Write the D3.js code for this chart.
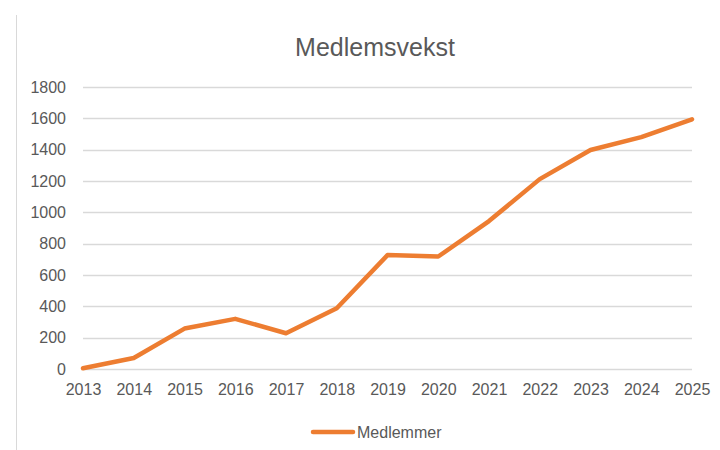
<!DOCTYPE html>
<html>
<head>
<meta charset="utf-8">
<script src="https://cdn.jsdelivr.net/npm/d3@7"></script>
<style>
  body { margin: 0; background: #fff; }
  text { font-family: "Liberation Sans", Arial, sans-serif; fill: #595959; }
</style>
</head>
<body>
<div id="container"></div>
<script>
// data
const years = ["2013", "2014", "2015", "2016", "2017", "2018", "2019",
               "2020", "2021", "2022", "2023", "2024", "2025"];
const members = [5, 70, 258, 320, 228, 388, 727, 718, 944, 1212, 1398, 1480, 1594];
const yTicks = [0, 200, 400, 600, 800, 1000, 1200, 1400, 1600, 1800];
const seriesName = "Medlemmer";
const title = "Medlemsvekst";

const W = 720, H = 450;
const margin = {top: 87, right: 28, bottom: 81, left: 83},
  width = W - margin.left - margin.right,
  height = H - margin.top - margin.bottom;

const svg = d3.select("#container")
  .append("svg")
    .attr("width", W)
    .attr("height", H);

// light frame line on the left
svg.append("line")
  .attr("x1", 16.5).attr("x2", 16.5)
  .attr("y1", 15).attr("y2", H)
  .attr("stroke", "#d9d9d9")
  .attr("stroke-width", 1);

svg.append("text")
  .attr("x", 375)
  .attr("y", 56)
  .attr("text-anchor", "middle")
  .style("font-size", "25px")
  .text(title);

const g = svg.append("g")
  .attr("transform", `translate(${margin.left},${margin.top})`);

const x = d3.scalePoint()
  .domain(years)
  .range([0, width]);

const y = d3.scaleLinear()
  .domain([0, 1800])
  .range([height, 0]);

// gridlines
g.selectAll(".grid")
  .data(yTicks)
  .join("line")
    .attr("class", "grid")
    .attr("x1", 0).attr("x2", width)
    .attr("y1", d => Math.round(y(d)) + 0.5)
    .attr("y2", d => Math.round(y(d)) + 0.5)
    .attr("stroke", "#d9d9d9")
    .attr("stroke-width", 1.3);

// y axis labels
const yAxis = g.append("g")
  .call(d3.axisLeft(y).tickValues(yTicks).tickFormat(d3.format("d")).tickSize(0).tickPadding(17));
yAxis.select(".domain").remove();
yAxis.selectAll("text")
  .style("font-size", "16px")
  .attr("fill", "#595959");

// x axis labels
const xAxis = g.append("g")
  .attr("transform", `translate(0,${height})`)
  .call(d3.axisBottom(x).tickSize(0).tickPadding(15));
xAxis.select(".domain").remove();
xAxis.selectAll("text")
  .style("font-size", "16px")
  .attr("fill", "#595959");

// the line
const line = d3.line()
  .x((d, i) => x(years[i]))
  .y(d => y(d));

g.append("path")
  .datum(members)
  .attr("d", line)
  .attr("fill", "none")
  .attr("stroke", "#ED7D31")
  .attr("stroke-width", 4.5)
  .attr("stroke-linejoin", "round")
  .attr("stroke-linecap", "round");

// legend
const legend = svg.append("g").attr("transform", "translate(313,432)");
legend.append("line")
  .attr("x1", 0).attr("x2", 40)
  .attr("y1", 0).attr("y2", 0)
  .attr("stroke", "#ED7D31")
  .attr("stroke-width", 4.5)
  .attr("stroke-linecap", "round");
legend.append("text")
  .attr("x", 44)
  .attr("y", 5.5)
  .style("font-size", "16px")
  .text(seriesName);
</script>
</body>
</html>
